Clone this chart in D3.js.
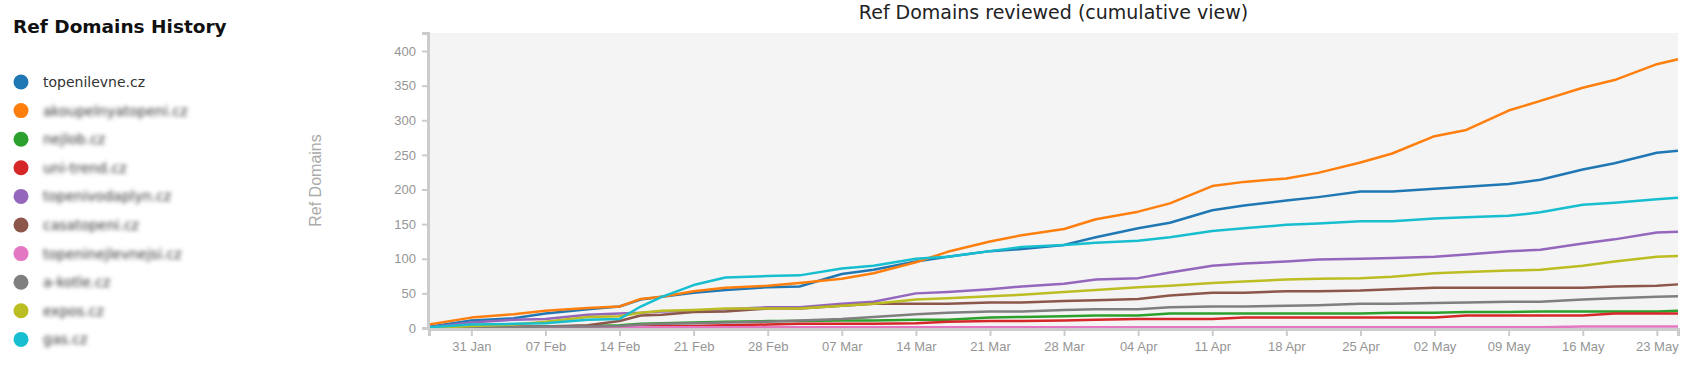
<!DOCTYPE html>
<html>
<head>
<meta charset="utf-8">
<script src="https://cdn.jsdelivr.net/npm/d3@7"></script>
<style>
  body { margin: 0; background: #fff; }
  svg { display: block; }
  .axis path, .axis line { stroke: #ccc; }
  .axis path { stroke-width: 3; }
  .axis line { stroke-width: 2; }
  .axis text { fill: #959595; font-family: "Liberation Sans", Arial, sans-serif; font-size: 13px; }
  .blurred { filter: blur(2px); }
</style>
</head>
<body>
<div id="chart"></div>
<script>
// sample dates (2021)
var dates = ["2021-01-27","2021-01-31","2021-02-04","2021-02-07","2021-02-11","2021-02-14","2021-02-16","2021-02-18",
  "2021-02-21","2021-02-24","2021-02-28","2021-03-03","2021-03-07","2021-03-10","2021-03-14","2021-03-17",
  "2021-03-21","2021-03-24","2021-03-28","2021-03-31","2021-04-04","2021-04-07","2021-04-11","2021-04-14",
  "2021-04-18","2021-04-21","2021-04-25","2021-04-28","2021-05-02","2021-05-05","2021-05-09","2021-05-12",
  "2021-05-16","2021-05-19","2021-05-23","2021-05-25"];

// domains, in legend order
var domains = ["topenilevne.cz", "akoupelnyatopeni.cz", "nejlob.cz", "uni-trend.cz", "topenivodaplyn.cz",
  "casatopeni.cz", "topeninejlevnejsi.cz", "a-kotle.cz", "expos.cz", "gas.cz"];

// cumulative ref domains per domain
var topenilevne = [2,11,14,21,27,31,41,45,51,55,59,60,78,84,96,103,111,114,120,131,144,152,170,177,184,189,197,197,201,204,208,214,229,238,253,256];
var akoupelnyatopeni = [5,15,20,25,29,31,42,45,53,58,61,65,71,79,95,110,125,134,143,157,168,180,205,211,216,224,239,252,277,286,314,328,347,358,381,388];
var nejlob = [0,1,1,2,3,4,6,7,8,9,10,10,11,11,12,12,15,16,17,18,18,21,21,21,21,21,21,22,22,23,23,24,24,24,24,25];
var unitrend = [0,0,1,1,1,2,2,3,3,4,5,6,6,6,7,9,10,10,11,12,13,13,13,15,15,15,15,15,15,18,18,18,18,21,21,21];
var topenivodaplyn = [1,8,12,13,19,21,22,24,25,27,30,30,35,38,50,52,56,60,64,70,72,80,90,93,96,99,100,101,103,106,111,113,122,128,138,139];
var casatopeni = [0,1,2,2,4,10,18,19,23,24,28,28,32,35,35,35,37,37,39,40,42,47,51,51,53,53,54,56,58,58,58,58,58,60,61,63];
var topeninejlevnejsi = [0,0,0,1,1,1,1,1,1,1,1,1,1,1,1,1,1,1,1,1,1,1,1,1,1,1,1,1,1,1,1,1,2,2,2,2];
var akotle = [0,1,1,2,2,3,5,6,7,8,9,11,13,16,20,22,24,24,26,27,27,30,31,31,32,33,35,35,36,37,38,38,41,43,45,46];
var expos = [0,3,5,9,16,17,22,25,26,28,28,28,32,35,41,43,46,48,52,55,59,61,65,67,70,71,72,74,79,81,83,84,90,96,103,104];
var gas = [1,5,6,7,12,13,31,45,62,73,75,76,86,90,100,103,111,117,120,123,126,131,140,144,149,151,154,154,158,160,162,167,178,181,186,188];

var seriesValues = [topenilevne, akoupelnyatopeni, nejlob, unitrend, topenivodaplyn,
  casatopeni, topeninejlevnejsi, akotle, expos, gas];

var yTicks = [0, 50, 100, 150, 200, 250, 300, 350, 400];

var width = 1688, height = 373;
var plot = {left: 429, right: 1678, top: 33, bottom: 328};

var parseDate = d3.timeParse("%Y-%m-%d");
var color = d3.scaleOrdinal().domain(domains).range(d3.schemeCategory10);

var svg = d3.select("#chart").append("svg")
  .attr("width", width)
  .attr("height", height);

// left legend
svg.append("text")
  .attr("x", 13)
  .attr("y", 33)
  .style("font-family", "'DejaVu Sans', Verdana, sans-serif")
  .style("font-weight", "bold")
  .style("font-size", "18.5px")
  .style("fill", "#111")
  .text("Ref Domains History");

var legend = svg.append("g").selectAll("g")
  .data(domains)
  .enter().append("g")
  .attr("transform", function(d, i) { return "translate(21," + (82 + i * 28.6) + ")"; });

legend.append("circle")
  .attr("r", 7.5)
  .attr("fill", function(d) { return color(d); });

legend.append("text")
  .attr("x", 22)
  .attr("dy", "0.35em")
  .attr("class", function(d, i) { return i > 0 ? "blurred" : null; })
  .style("font-family", "'DejaVu Sans', Verdana, sans-serif")
  .style("font-size", "14px")
  .style("fill", "#333")
  .text(function(d) { return d; });

// scales
var x = d3.scaleTime()
  .domain([parseDate(dates[0]), parseDate(dates[dates.length - 1])])
  .range([plot.left, plot.right]);

var y = d3.scaleLinear()
  .domain([0, 426])
  .range([plot.bottom, plot.top]);

// plot background
svg.append("rect")
  .attr("x", plot.left)
  .attr("y", plot.top)
  .attr("width", plot.right - plot.left)
  .attr("height", plot.bottom - plot.top)
  .attr("fill", "#f4f4f4");

// chart title
svg.append("text")
  .attr("x", (plot.left + plot.right) / 2)
  .attr("y", 19)
  .attr("text-anchor", "middle")
  .style("font-family", "'DejaVu Sans', Verdana, sans-serif")
  .style("font-size", "19px")
  .style("fill", "#222")
  .text("Ref Domains reviewed (cumulative view)");

// y axis title
svg.append("text")
  .attr("transform", "translate(315," + ((plot.top + plot.bottom) / 2) + ") rotate(-90)")
  .attr("text-anchor", "middle")
  .attr("dy", "0.35em")
  .style("font-family", "'Liberation Sans', Arial, sans-serif")
  .style("font-size", "16px")
  .style("fill", "#aaa")
  .text("Ref Domains");

// lines
var line = d3.line()
  .x(function(d) { return x(d.date); })
  .y(function(d) { return y(d.value); });

seriesValues.forEach(function(values, i) {
  var points = values.map(function(v, j) { return {date: parseDate(dates[j]), value: v}; });
  svg.append("path")
    .datum(points)
    .attr("d", line)
    .attr("fill", "none")
    .attr("stroke", color(domains[i]))
    .attr("stroke-width", 2.5)
    .attr("stroke-linejoin", "round");
});

// axes
svg.append("g")
  .attr("class", "axis")
  .attr("transform", "translate(0," + (plot.bottom + 1) + ")")
  .call(d3.axisBottom(x)
    .ticks(d3.timeWeek.every(1))
    .tickFormat(d3.timeFormat("%d %b"))
    .tickSize(7)
    .tickPadding(6));

svg.append("g")
  .attr("class", "axis")
  .attr("transform", "translate(" + (plot.left - 1) + ",0)")
  .call(d3.axisLeft(y)
    .tickValues(yTicks)
    .tickSize(6)
    .tickPadding(6));
</script>
</body>
</html>
